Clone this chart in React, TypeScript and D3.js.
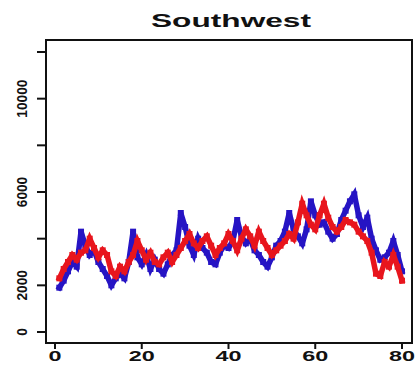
import React from 'react';
import * as d3 from 'd3';

// Southwest series, periods 1..80
const periods = d3.range(1, 81);

const redValues = [
  2300, 2700, 3000, 3300, 3100, 3400, 3500, 4000, 3600, 3200,
  3500, 3300, 2600, 2400, 2800, 2600, 3000, 3300, 3900, 3500,
  3100, 3400, 3000, 2900, 3200, 3400, 3000, 3300, 3600, 3900,
  4200, 3800, 3600, 3900, 4100, 3700, 3300, 3600, 3800, 4200,
  3900, 3500, 4000, 4400, 4100, 3700, 4300, 3900, 3600, 3300,
  3500, 3700, 3900, 4200, 4000, 4700, 5500, 5000, 4600, 4400,
  5000, 5500, 4900, 4500, 4300, 4500, 4800, 4700, 4600, 4300,
  4100, 3900, 3400, 2500, 2400, 3000, 2800, 3300, 2800, 2200,
];

const blueValues = [
  1900, 2200, 2600, 3000, 2800, 4300, 3700, 3300, 3500, 3000,
  2700, 2400, 2000, 2300, 2500, 2300, 3000, 4300, 3200, 2900,
  3300, 2700, 3100, 2700, 2500, 2900, 3300, 3500, 5100, 4500,
  3700, 3300, 4000, 3600, 3400, 3000, 2900, 3400, 3700, 3600,
  3900, 4800, 4100, 3800, 4000, 3500, 3300, 3000, 2800, 3200,
  3700, 3900, 4300, 5100, 4400, 4100, 3800, 4400, 5600, 5000,
  4600, 4700, 4300, 4000, 4200, 4800, 5200, 5600, 5900, 5000,
  4500, 4900, 4000, 3500, 3100, 3200, 3400, 3900, 3300, 2600,
];

const yTicks = [0, 2000, 4000, 6000, 8000, 10000, 12000];
const yTickLabels = [0, 2000, 6000, 10000];
const xTicks = [0, 20, 40, 60, 80];

const title = 'Southwest';

const W = 418;
const H = 366;
const frame = { left: 46, right: 412, top: 40, bottom: 343 };
const font = '"Liberation Sans", Arial, sans-serif';

export default function App() {
  const x = d3.scaleLinear().domain([0, 80]).range([55, 402]);
  const y = d3.scaleLinear().domain([0, 12000]).range([332, 52]);

  const line = d3.line<number>()
    .x((_, i) => x(periods[i]))
    .y(d => y(d));

  const series = [
    { values: blueValues, color: '#2614c4' },
    { values: redValues, color: '#e8151d' },
  ];

  return (
    <svg width={W} height={H} style={{ position: 'absolute', left: 0, top: 0, background: '#fff' }}>
      <text
        x={231}
        y={27}
        textAnchor="middle"
        fontFamily={font}
        fontSize={18}
        fontWeight="bold"
        fill="#111"
        textLength={160}
        lengthAdjust="spacingAndGlyphs"
      >
        {title}
      </text>

      {/* data */}
      {series.map((s, k) => (
        <g key={k}>
          <path
            d={line(s.values) || ''}
            fill="none"
            stroke={s.color}
            strokeWidth={5.5}
            strokeLinejoin="miter"
            strokeLinecap="square"
          />
          {s.values.map((v, i) => (
            <rect
              key={i}
              x={x(periods[i]) - 3}
              y={y(v) - 3}
              width={6}
              height={6}
              fill={s.color}
            />
          ))}
        </g>
      ))}

      {/* frame */}
      <rect
        x={frame.left}
        y={frame.top}
        width={frame.right - frame.left}
        height={frame.bottom - frame.top}
        fill="none"
        stroke="#111"
        strokeWidth={2}
      />

      {/* y axis */}
      {yTicks.map(t => (
        <line key={t} x1={37} x2={frame.left} y1={y(t)} y2={y(t)} stroke="#111" strokeWidth={2} />
      ))}
      {yTickLabels.map(t => {
        const s = String(t);
        return (
          <text
            key={t}
            transform={`translate(27,${y(t)}) rotate(-90)`}
            textAnchor="middle"
            fontFamily={font}
            fontSize={15}
            fontWeight="bold"
            fill="#111"
            textLength={s.length * 7.6}
            lengthAdjust="spacingAndGlyphs"
          >
            {s}
          </text>
        );
      })}

      {/* x axis */}
      {xTicks.map(t => (
        <line key={t} x1={x(t)} x2={x(t)} y1={frame.bottom} y2={frame.bottom + 6} stroke="#111" strokeWidth={2} />
      ))}
      {xTicks.map(t => {
        const s = String(t);
        return (
          <text
            key={t}
            x={x(t)}
            y={361}
            textAnchor="middle"
            fontFamily={font}
            fontSize={15}
            fontWeight="bold"
            fill="#111"
            textLength={s.length * 13}
            lengthAdjust="spacingAndGlyphs"
          >
            {s}
          </text>
        );
      })}
    </svg>
  );
}
